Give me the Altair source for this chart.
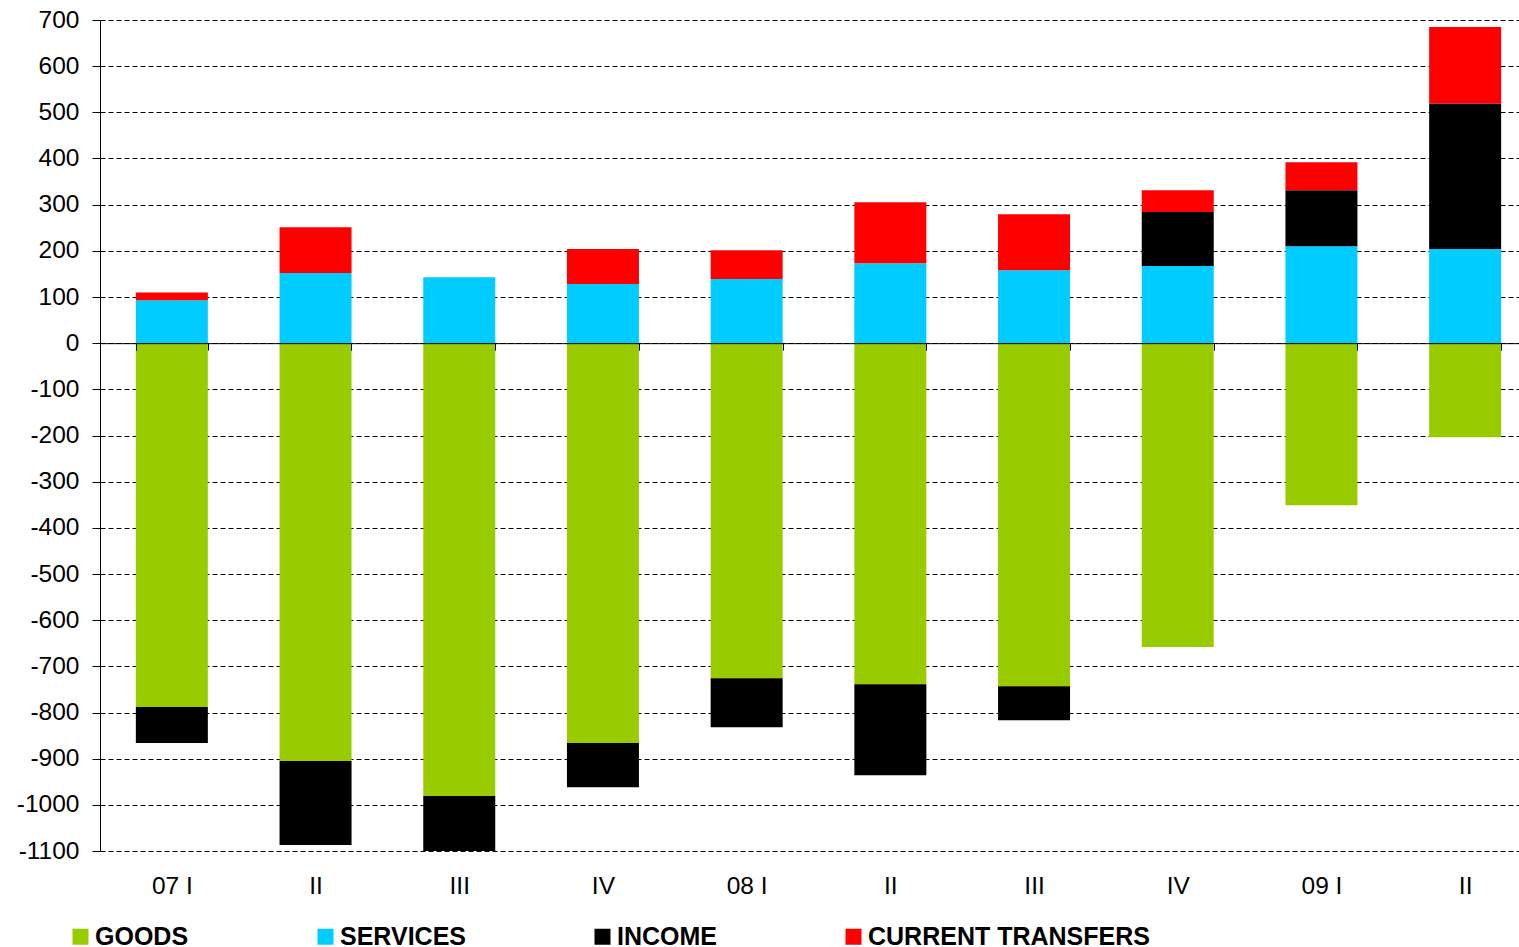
import altair as alt
import pandas as pd

# Quarterly current account components
quarters = ["07 I", "07 II", "07 III", "07 IV", "08 I", "08 II", "08 III", "08 IV", "09 I", "09 II"]
quarter_labels = ["07 I", "II", "III", "IV", "08 I", "II", "III", "IV", "09 I", "II"]

goods = [-788, -905, -981, -866, -726, -739, -743, -658, -351, -204]
services = [93, 152, 143, 128, 139, 173, 158, 167, 210, 204]
income = [-78, -182, -119, -96, -106, -197, -74, 117, 121, 315]
transfers = [17, 99, 0, 76, 62, 132, 121, 47, 61, 166]

series_names = ["GOODS", "SERVICES", "INCOME", "CURRENT TRANSFERS"]
series_colors = ["#99CC00", "#00CCFF", "#000000", "#FF0000"]

rows = []
for name, vals in zip(series_names, [goods, services, income, transfers]):
    for q, v in zip(quarters, vals):
        rows.append({"quarter": q, "component": name, "value": v,
                     "rank": series_names.index(name)})
df = pd.DataFrame(rows)

label_expr = "{}[indexof({}, datum.value)]".format(
    "[" + ",".join("'%s'" % s for s in quarter_labels) + "]",
    "[" + ",".join("'%s'" % s for s in quarters) + "]",
)

W, H = 1419, 831
band_range = 1437  # the last quarter runs a little past the right edge
y_min, y_max = -1100, 700
zero_px = H * y_max / (y_max - y_min)

bars = alt.Chart(df).mark_bar(size=72).encode(
    x=alt.X(
        "quarter:N",
        sort=quarters,
        scale=alt.Scale(paddingInner=0.5, paddingOuter=0.25, range=[0, band_range]),
        axis=alt.Axis(
            title=None,
            labelExpr=label_expr,
            labelAngle=0,
            labelFontSize=24.5,
            labelColor="black",
            labelPadding=524,
            tickBand="extent",
            tickSize=7,
            tickColor="black",
            domainColor="black",
            offset=zero_px - H,
            grid=False,
            zindex=1,
        ),
    ),
    y=alt.Y(
        "sum(value):Q",
        stack="zero",
        scale=alt.Scale(domain=[y_min, y_max], nice=False, zero=False),
        axis=alt.Axis(
            title=None,
            values=list(range(y_min, y_max + 1, 100)),
            labelExpr="'' + datum.value",
            labelFontSize=24.5,
            labelColor="black",
            labelPadding=13,
            tickSize=8,
            tickColor="black",
            domainColor="black",
            grid=True,
            gridColor="black",
            gridDash=[5, 3],
            gridWidth=1,
        ),
    ),
    color=alt.Color(
        "component:N",
        scale=alt.Scale(domain=series_names, range=series_colors),
        legend=alt.Legend(
            title=None,
            orient="none",
            legendX=-32,
            legendY=904,
            direction="horizontal",
            columns=4,
            columnPadding=124,
            symbolType="square",
            symbolSize=256,
            symbolStrokeWidth=0,
            labelOffset=2,
            labelLimit=1000,
            labelFontSize=25,
            labelFontWeight="bold",
            labelColor="black",
            padding=0,
        ),
    ),
    order=alt.Order("rank:Q", sort="ascending"),
)

chart = bars.properties(
    width=W,
    height=H,
    autosize=alt.AutoSizeParams(type="none"),
    padding={"left": 100, "top": 20, "right": 0, "bottom": 96},
).configure(
    font="Liberation Sans",
).configure_view(
    stroke=None,
)

chart.save("out.html", embed_options={"renderer": "svg", "actions": False})
